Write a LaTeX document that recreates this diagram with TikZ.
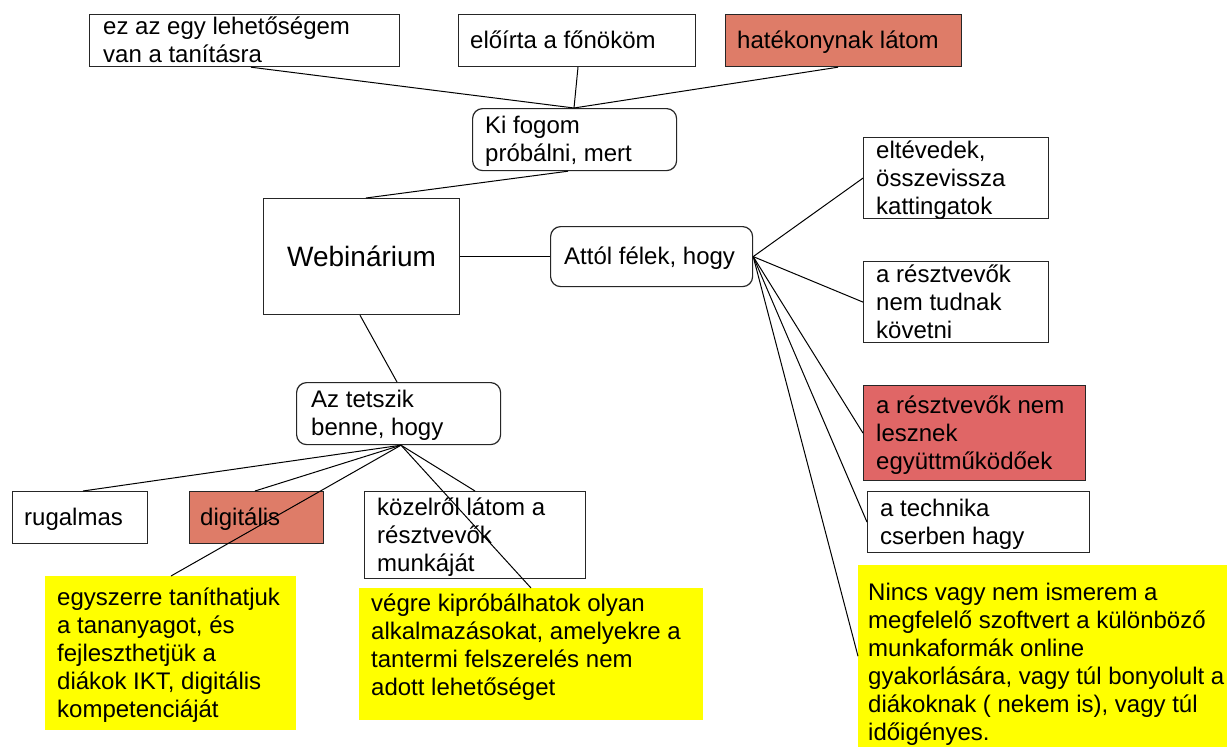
\documentclass[tikz,border=0pt]{standalone}
\usepackage{fontspec}
\setmainfont{Liberation Sans}
\definecolor{salmon}{HTML}{DE7C68}
\definecolor{redb}{HTML}{E06666}
\definecolor{yelw}{HTML}{FFFF00}
\newcommand{\ls}{\rule[-5.7pt]{0pt}{28pt}}
\begin{document}
\begin{tikzpicture}[x=1pt,y=-1pt,
  bx/.style={draw=black!85, line width=1.2pt, fill=white, rectangle, inner sep=0pt, anchor=north west},
  rbx/.style={bx, rounded corners=10pt},
  ybx/.style={fill=yelw, draw=none, rectangle, inner sep=0pt, anchor=north west},
  txt/.style={anchor=west, align=left, inner sep=0pt, font=\fontsize{24}{28}\selectfont},
  conn/.style={draw=black, line width=1pt}]
\useasboundingbox (0,0) rectangle (1227,747);
\fill[white] (0,0) rectangle (1227,747);
% boxes
\node[bx, minimum width=310pt, minimum height=52pt] (bA) at (89,14) {};
\node[bx, minimum width=237pt, minimum height=52pt] (bB) at (458,14) {};
\node[bx, fill=salmon, minimum width=236pt, minimum height=52pt] (bC) at (725,14) {};
\node[rbx, minimum width=204pt, minimum height=62pt] (bKi) at (472,108) {};
\node[bx, minimum width=196pt, minimum height=116pt] (bW) at (263,198) {};
\node[rbx, minimum width=202pt, minimum height=60pt] (bAt) at (550,226) {};
\node[bx, minimum width=185pt, minimum height=81pt] (bE) at (863,137) {};
\node[bx, minimum width=185pt, minimum height=81pt] (bR) at (863,261) {};
\node[bx, fill=redb, minimum width=222pt, minimum height=95pt] (bRed) at (863,385) {};
\node[bx, minimum width=222pt, minimum height=61pt] (bT) at (867,491) {};
\node[ybx, minimum width=369pt, minimum height=182pt] (bN) at (858,565) {};
\node[rbx, minimum width=204pt, minimum height=62pt] (bAz) at (296,382) {};
\node[bx, minimum width=135pt, minimum height=52pt] (bRu) at (12,491) {};
\node[bx, fill=salmon, minimum width=134pt, minimum height=52pt] (bD) at (189,491) {};
\node[bx, minimum width=221pt, minimum height=87pt] (bK) at (364,491) {};
\node[ybx, minimum width=251pt, minimum height=154pt] (bEg) at (45,576) {};
\node[ybx, minimum width=344pt, minimum height=132pt] (bV) at (359,588) {};
% texts
\node[txt] (tA) at ([xshift=14pt]bA.west) {\ls ez az egy lehetőségem\\\ls van a tanításra};
\node[txt] (tB) at ([xshift=12pt]bB.west) {\ls előírta a főnököm};
\node[txt] (tC) at ([xshift=12pt]bC.west) {\ls hatékonynak látom};
\node[txt] (tKi) at ([xshift=13pt]bKi.west) {\ls Ki fogom\\\ls próbálni, mert};
\node[inner sep=0pt, font=\fontsize{28}{32}\selectfont] (tW) at (bW.center) {Webinárium};
\node[txt] (tAt) at ([xshift=14pt]bAt.west) {\ls Attól félek, hogy};
\node[txt] (tE) at ([xshift=13pt]bE.west) {\ls eltévedek,\\\ls összevissza\\\ls kattingatok};
\node[txt] (tR) at ([xshift=13pt]bR.west) {\ls a résztvevők\\\ls nem tudnak\\\ls követni};
\node[txt] (tRed) at ([xshift=13pt]bRed.west) {\ls a résztvevők nem\\\ls lesznek\\\ls együttműködőek};
\node[txt] (tT) at ([xshift=13pt]bT.west) {\ls a technika\\\ls cserben hagy};
\node[txt] (tN) at ([xshift=10pt,yshift=-6pt]bN.west) {\ls Nincs vagy nem ismerem a\\\ls megfelelő szoftvert a különböző\\\ls munkaformák online\\\ls gyakorlására, vagy túl bonyolult a\\\ls diákoknak ( nekem is), vagy túl\\\ls időigényes.};
\node[txt] (tAz) at ([xshift=15pt]bAz.west) {\ls Az tetszik\\\ls benne, hogy};
\node[txt] (tRu) at ([xshift=12pt]bRu.west) {\ls rugalmas};
\node[txt] (tD) at ([xshift=11pt]bD.west) {\ls digitális};
\node[txt] (tK) at ([xshift=13pt]bK.west) {\ls közelről látom a\\\ls résztvevők\\\ls munkáját};
\node[txt] (tEg) at ([xshift=12pt]bEg.west) {\ls egyszerre taníthatjuk\\\ls a tananyagot, és\\\ls fejleszthetjük a\\\ls diákok IKT, digitális\\\ls kompetenciáját};
\node[txt] (tV) at ([xshift=12pt,yshift=9pt]bV.west) {\ls végre kipróbálhatok olyan\\\ls alkalmazásokat, amelyekre a\\\ls tantermi felszerelés nem\\\ls adott lehetőséget};
% connectors
\draw[conn] ([xshift=162pt]bA.south west) -- ([xshift=102pt]bKi.north west);
\draw[conn] ([xshift=120pt]bB.south west) -- ([xshift=102pt]bKi.north west);
\draw[conn] ([xshift=113pt]bC.south west) -- ([xshift=102pt]bKi.north west);
\draw[conn] ([xshift=96pt]bKi.south west) -- ([xshift=103pt]bW.north west);
\draw[conn] (bW.east) -- (bAt.west);
\draw[conn] ([xshift=97pt]bW.south west) -- ([xshift=101pt]bAz.north west);
\draw[conn] (bAt.east) -- (bE.west);
\draw[conn] (bAt.east) -- (bR.west);
\draw[conn] (bAt.east) -- (bRed.west);
\draw[conn] (bAt.east) -- (bT.west);
\draw[conn] (bAt.east) -- (bN.west);
\draw[conn] ([xshift=105pt]bAz.south west) -- ([xshift=71pt]bRu.north west);
\draw[conn] ([xshift=105pt]bAz.south west) -- ([xshift=66pt]bD.north west);
\draw[conn] ([xshift=105pt]bAz.south west) -- ([xshift=126pt]bEg.north west);
\draw[conn] ([xshift=105pt]bAz.south west) -- ([xshift=111pt]bK.north west);
\draw[conn] ([xshift=105pt]bAz.south west) -- ([xshift=172pt]bV.north west);
\end{tikzpicture}
\end{document}
